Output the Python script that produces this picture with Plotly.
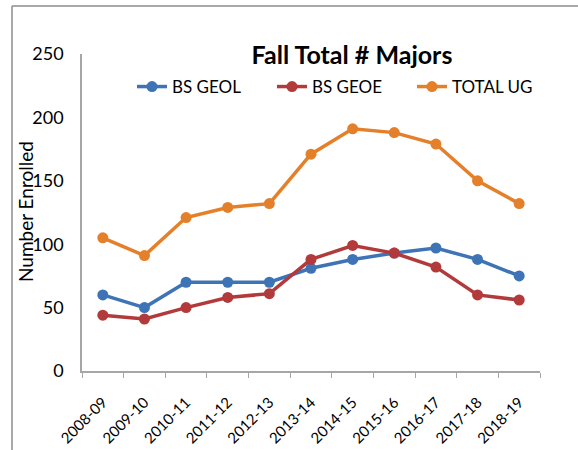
import plotly.graph_objects as go

years = ["2008-09", "2009-10", "2010-11", "2011-12", "2012-13", "2013-14",
         "2014-15", "2015-16", "2016-17", "2017-18", "2018-19"]
bs_geol = [60, 50, 70, 70, 70, 81, 88, 93, 97, 88, 75]
bs_geoe = [44, 41, 50, 58, 61, 88, 99, 93, 82, 60, 56]
total_ug = [105, 91, 121, 129, 132, 171, 191, 188, 179, 150, 132]

FONT = "Lato, 'Open Sans', sans-serif"

# plot area in pixels
L, R, T, B = 82, 540, 54, 371
W, H = R - L, B - T

fig = go.Figure()
for name, vals, col in [("BS GEOL", bs_geol, "#3E74B6"),
                        ("BS GEOE", bs_geoe, "#B23A3B"),
                        ("TOTAL UG", total_ug, "#E5802A")]:
    fig.add_trace(go.Scatter(x=years, y=vals, name=name, mode="lines+markers",
                             line=dict(color=col, width=3.5),
                             marker=dict(color=col, size=11)))

fig.update_layout(
    width=578, height=450,
    margin=dict(l=L, r=578 - R, t=T, b=450 - B),
    paper_bgcolor="white", plot_bgcolor="white",
    font=dict(family=FONT, color="black"),
    title=dict(text="<b>Fall Total # Majors</b>", x=352 / 578, xanchor="center",
               y=1 - 55 / 450, yanchor="middle", font=dict(size=25)),
    legend=dict(orientation="h", x=(132 - L) / W, xanchor="left", y=(B - 87) / H,
                yanchor="middle", font=dict(size=17), entrywidth=95,
                bgcolor="rgba(0,0,0,0)"),
    showlegend=True,
)
fig.update_xaxes(type="category", showgrid=False, showline=True, linecolor="#a6a6a6",
                 linewidth=1.5, ticks="outside", tickson="boundaries", ticklen=5,
                 tickcolor="#a6a6a6", tickangle=-45, tickfont=dict(size=15),
                 ticklabelstandoff=15, range=[-0.5, 10.5], automargin=False)
fig.update_yaxes(range=[0, 250], dtick=50, showgrid=False, showline=True,
                 linecolor="#a6a6a6", linewidth=1.5, zeroline=False,
                 tickfont=dict(size=18), ticklabelstandoff=13, automargin=False)

fig.add_annotation(text="Number Enrolled", textangle=-90, xref="paper", yref="paper",
                   x=(25 - L) / W, y=(B - 212) / H, xanchor="center", yanchor="middle",
                   showarrow=False, font=dict(size=19))

fig.add_shape(type="line", xref="paper", yref="paper", x0=(12 - L) / W, x1=1.3,
              y0=(B - 6) / H, y1=(B - 6) / H, line=dict(color="#8c8c8c", width=1.5))
fig.add_shape(type="line", xref="paper", yref="paper", x0=(12 - L) / W, x1=(12 - L) / W,
              y0=(B - 6) / H, y1=-0.5, line=dict(color="#8c8c8c", width=1.5))

fig.write_html("out.html", config={"displayModeBar": False},
               post_script="document.body.style.margin='0';")
